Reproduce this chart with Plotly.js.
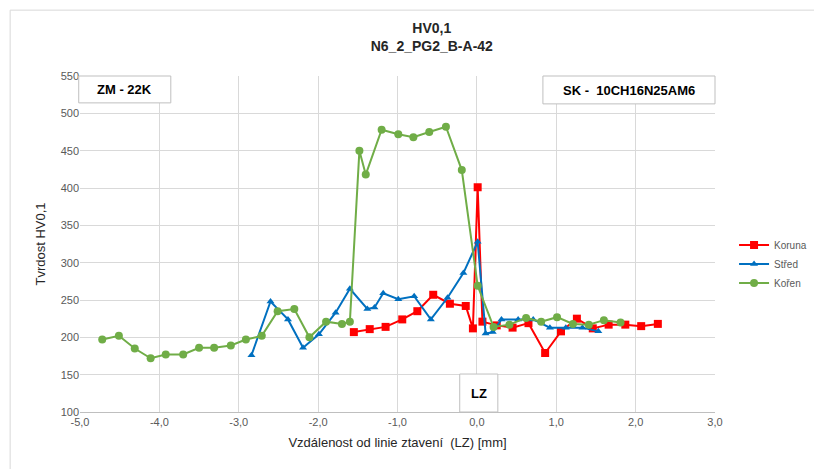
<!DOCTYPE html>
<html>
<head>
<meta charset="utf-8">
<script src="https://cdn.plot.ly/plotly-3.0.1.min.js"></script>
<style>html,body{margin:0;padding:0;background:#fff;}#chart{width:814px;height:469px;}</style>
</head>
<body>
<div id="chart"></div>
<script>
var korunaX = [-1.55,-1.35,-1.15,-0.94,-0.75,-0.55,-0.34,-0.14,-0.05,0.01,0.07,0.25,0.45,0.65,0.86,1.06,1.26,1.46,1.66,1.87,2.07,2.28];
var korunaY = [207,211,214,224,235,257,245,242,212,401,221,216,213,219,179,208,225,212,217,217,215,218];

var stredX = [-2.84,-2.60,-2.38,-2.19,-1.99,-1.78,-1.60,-1.38,-1.29,-1.18,-0.99,-0.79,-0.58,-0.37,-0.17,0.01,0.11,0.20,0.31,0.52,0.71,0.92,1.12,1.33,1.53];
var stredY = [176,248,224,186,204,233,265,238,240,259,251,255,224,253,286,328,205,207,224,224,224,213,213,213,208];

var korenX = [-4.72,-4.51,-4.31,-4.11,-3.92,-3.70,-3.50,-3.31,-3.10,-2.91,-2.71,-2.51,-2.30,-2.11,-1.90,-1.70,-1.60,-1.48,-1.40,-1.20,-0.99,-0.80,-0.60,-0.39,-0.19,0.01,0.21,0.41,0.62,0.81,1.01,1.21,1.41,1.60,1.81];
var korenY = [197,202,185,172,177,177,186,186,189,197,202,235,238,200,221,218,221,450,418,478,472,468,475,482,424,269,214,217,226,221,227,218,217,223,220];

var seriesNames = ["Koruna","Střed","Kořen"];
var xTickVals = [-5,-4,-3,-2,-1,0,1,2,3];
var xTickText = ["-5,0","-4,0","-3,0","-2,0","-1,0","0,0","1,0","2,0","3,0"];
var titleLines = ["HV0,1","N6_2_PG2_B-A-42"];
var xTitle = "Vzdálenost od linie ztavení  (LZ) [mm]";
var yTitle = "Tvrdost HV0,1";
var boxLeft = "ZM - 22K";
var boxRight = "SK -  10CH16N25AM6";
var boxLZ = "LZ";

var FONT = "Liberation Sans Narrow, Liberation Sans, Arial, sans-serif";

var traces = [
  {x: korunaX, y: korunaY, name: seriesNames[0], type: 'scatter', mode: 'lines+markers',
   line: {color: '#ff0000', width: 2}, marker: {symbol: 'square', size: 8, color: '#ff0000'}},
  {x: stredX, y: stredY, name: seriesNames[1], type: 'scatter', mode: 'lines+markers',
   line: {color: '#0070c0', width: 2}, marker: {symbol: 'triangle-up', size: 7, color: '#0070c0'}},
  {x: korenX, y: korenY, name: seriesNames[2], type: 'scatter', mode: 'lines+markers',
   line: {color: '#70ad47', width: 2}, marker: {symbol: 'circle', size: 8, color: '#70ad47'}}
];

var layout = {
  width: 814, height: 469,
  margin: {l: 80, r: 99, t: 76, b: 57, autoexpand: false},
  paper_bgcolor: '#ffffff', plot_bgcolor: '#ffffff',
  separators: ',.',
  font: {family: FONT, color: '#595959', size: 11},
  showlegend: true,
  legend: {x: 1.03, y: 0.54, xanchor: 'left', yanchor: 'top', font: {size: 10, color: '#595959', family: FONT},
           tracegroupgap: 0, itemwidth: 30, bgcolor: 'rgba(0,0,0,0)'},
  title: {text: '<b>' + titleLines[0] + '</b><br><b>' + titleLines[1] + '</b>', x: 0.554, xref: 'paper', xanchor: 'center',
          y: 0.93, yanchor: 'middle', font: {size: 14, color: '#262626', family: FONT}},
  xaxis: {range: [-5, 3], tickmode: 'array', tickvals: xTickVals, ticktext: xTickText, showgrid: true, gridcolor: '#d9d9d9', gridwidth: 1,
          zeroline: false, showline: true, linecolor: '#bfbfbf', linewidth: 1, ticks: '',
          tickfont: {size: 11, color: '#595959'},
          title: {text: xTitle, font: {size: 13, color: '#262626'}, standoff: 10}},
  yaxis: {range: [100, 550], dtick: 50, tick0: 100, showgrid: true, gridcolor: '#d9d9d9', gridwidth: 1,
          zeroline: false, showline: false, ticks: '', tickfont: {size: 11, color: '#595959'},
          title: {text: yTitle, font: {size: 13, color: '#262626'}, standoff: 12}},
  shapes: [
    {type: 'rect', xref: 'paper', yref: 'paper', x0: -0.002, x1: 0.143, y0: 0.92, y1: 1.0,
     line: {color: '#bfbfbf', width: 1}, fillcolor: '#ffffff', layer: 'above'},
    {type: 'rect', xref: 'paper', yref: 'paper', x0: 0.729, x1: 1.0, y0: 0.917, y1: 1.0,
     line: {color: '#bfbfbf', width: 1}, fillcolor: '#ffffff', layer: 'above'},
    {type: 'rect', xref: 'paper', yref: 'paper', x0: 0.598, x1: 0.658, y0: 0.0, y1: 0.113,
     line: {color: '#bfbfbf', width: 1}, fillcolor: '#ffffff', layer: 'above'},
    {type: 'rect', xref: 'paper', yref: 'paper', x0: -0.11, x1: 1.3, y0: -0.5, y1: 1.196,
     line: {color: '#d9d9d9', width: 1}, fillcolor: 'rgba(0,0,0,0)', layer: 'below'}
  ],
  annotations: [
    {xref: 'paper', yref: 'paper', x: 0.0705, y: 0.96, text: '<b>' + boxLeft + '</b>', showarrow: false,
     font: {size: 13, color: '#000000', family: FONT}, xanchor: 'center', yanchor: 'middle'},
    {xref: 'paper', yref: 'paper', x: 0.8645, y: 0.958, text: '<b>' + boxRight + '</b>', showarrow: false,
     font: {size: 13, color: '#000000', family: FONT}, xanchor: 'center', yanchor: 'middle'},
    {xref: 'paper', yref: 'paper', x: 0.628, y: 0.056, text: '<b>' + boxLZ + '</b>', showarrow: false,
     font: {size: 13, color: '#000000', family: FONT}, xanchor: 'center', yanchor: 'middle'}
  ]
};

Plotly.newPlot('chart', traces, layout, {displayModeBar: false, staticPlot: true});
</script>
</body>
</html>
